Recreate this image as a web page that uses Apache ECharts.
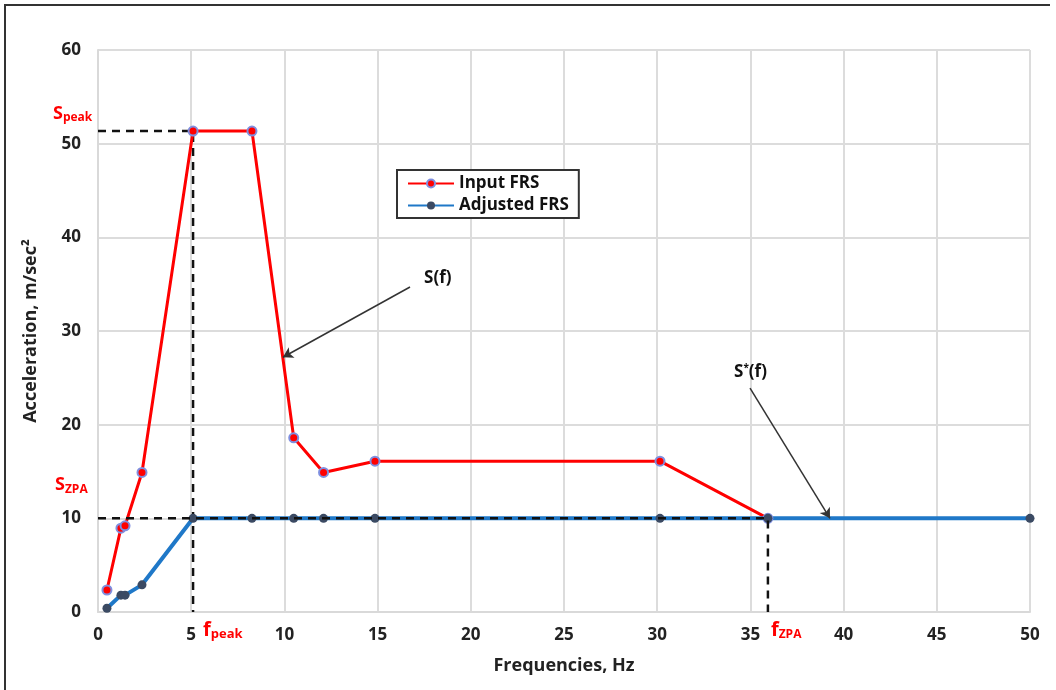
<!DOCTYPE html>
<html>
<head>
<meta charset="utf-8">
<script src="https://cdn.jsdelivr.net/npm/echarts@6/dist/echarts.min.js"></script>
<style>
  html, body { margin: 0; padding: 0; background: #fff; }
  #chart { width: 1056px; height: 690px; }
</style>
</head>
<body>
<div id="chart"></div>
<script>
// Frequencies (Hz) at which both spectra are defined
const freqs = [0.48, 1.23, 1.45, 2.36, 5.1, 8.26, 10.5, 12.1, 14.86, 30.15, 35.94];
// Input floor response spectrum, m/sec²
const inputFRS = [2.35, 8.95, 9.2, 14.9, 51.35, 51.35, 18.6, 14.9, 16.1, 16.1, 10.0];
// Adjusted spectrum: same frequencies plus the 50 Hz end point
const adjFreqs = [0.48, 1.23, 1.45, 2.36, 5.1, 8.26, 10.5, 12.1, 14.86, 30.15, 35.94, 50];
const adjustedFRS = [0.4, 1.8, 1.8, 2.9, 10.0, 10.0, 10.0, 10.0, 10.0, 10.0, 10.0, 10.0];
// Axis ticks
const xTicks = [0, 5, 10, 15, 20, 25, 30, 35, 40, 45, 50];
const yTicks = [0, 10, 20, 30, 40, 50, 60];
// Annotation arrows: [start, end] in data coordinates
const arrowSf = [[16.74, 34.7], [9.92, 27.2]];
const arrowSstar = [[34.98, 23.9], [39.27, 10.0]];

const iPeak = 4;      // index of the spectral peak
const iZpa = 10;      // index of the zero-period acceleration point
const fPeak = freqs[iPeak], sPeak = inputFRS[iPeak];
const fZpa = freqs[iZpa], sZpa = inputFRS[iZpa];

const FONT = '"Open Sans", "Liberation Sans", sans-serif';
const chart = echarts.init(document.getElementById('chart'));

const dashStyle = { color: '#111', width: 2.5, type: [8, 6] };

chart.setOption({
  animation: false,
  backgroundColor: '#fff',
  grid: { left: 98, right: 26, top: 50, bottom: 78 },
  xAxis: {
    type: 'value', min: xTicks[0], max: xTicks[xTicks.length - 1], interval: 5,
    name: 'Frequencies, Hz', nameLocation: 'middle', nameGap: 45,
    nameTextStyle: { fontFamily: FONT, fontWeight: 'bold', fontSize: 18, color: '#222' },
    axisLine: { show: true, lineStyle: { color: '#d9d9d9', width: 2 } },
    axisTick: { show: false },
    axisLabel: { fontFamily: FONT, fontWeight: 'bold', fontSize: 17, color: '#222', margin: 15 },
    splitLine: { show: true, lineStyle: { color: '#dcdcdc', width: 2 } }
  },
  yAxis: {
    type: 'value', min: yTicks[0], max: yTicks[yTicks.length - 1], interval: 10,
    name: 'Acceleration, m/sec²', nameLocation: 'middle', nameGap: 58,
    nameTextStyle: { fontFamily: FONT, fontWeight: 'bold', fontSize: 18, color: '#222' },
    axisLine: { show: true, lineStyle: { color: '#d9d9d9', width: 2 } },
    axisTick: { show: false },
    axisLabel: { fontFamily: FONT, fontWeight: 'bold', fontSize: 17, color: '#222', margin: 17 },
    splitLine: { show: true, lineStyle: { color: '#dcdcdc', width: 2 } }
  },
  legend: {
    orient: 'vertical', left: 397, top: 170,
    data: ['Input FRS', 'Adjusted FRS'],
    backgroundColor: '#fff',
    borderColor: '#333', borderWidth: 2, padding: [5, 10, 4, 10],
    itemWidth: 46, itemHeight: 10, itemGap: 5,
    textStyle: { fontFamily: FONT, fontWeight: 'bold', fontSize: 17, color: '#111' }
  },
  series: [
    {
      name: 'peak-guide', type: 'line', silent: true, symbol: 'none',
      data: [[0, sPeak], [fPeak, sPeak], [fPeak, 0]],
      lineStyle: dashStyle, z: 3
    },
    {
      name: 'zpa-guide', type: 'line', silent: true, symbol: 'none',
      data: [[0, sZpa], [fZpa, sZpa], [fZpa, 0]],
      lineStyle: dashStyle, z: 5
    },
    {
      name: 'Input FRS', type: 'line',
      data: freqs.map((f, i) => [f, inputFRS[i]]),
      symbol: 'circle', symbolSize: 9,
      itemStyle: { color: '#ff0000', borderColor: '#7f8fe0', borderWidth: 2 },
      lineStyle: { color: '#ff0000', width: 3 }, z: 4,
      markLine: {
        silent: true, symbol: ['none', 'arrow'], symbolSize: [9, 10],
        lineStyle: { color: '#333', width: 1.5, type: 'solid' },
        label: { show: false },
        data: [
          [{ coord: arrowSf[0] }, { coord: arrowSf[1] }],
          [{ coord: arrowSstar[0] }, { coord: arrowSstar[1] }]
        ]
      }
    },
    {
      name: 'Adjusted FRS', type: 'line',
      data: adjFreqs.map((f, i) => [f, adjustedFRS[i]]),
      symbol: 'circle', symbolSize: 9,
      itemStyle: { color: '#3b4a63', borderColor: '#3b4a63', borderWidth: 0 },
      lineStyle: { color: '#1f78c8', width: 4 }, z: 4
    }
  ]
});

// Text annotations placed at data positions
function px(x, y) { return chart.convertToPixel({ gridIndex: 0 }, [x, y]); }
const pPeak = px(0, sPeak), pZpa = px(0, sZpa);
const pfPeak = px(fPeak, 0), pfZpa = px(fZpa, 0);
const pSf = px(arrowSf[0][0], arrowSf[0][1]);
const pSs = px(arrowSstar[0][0], arrowSstar[0][1]);

function subLabel(x, y, main, sub, mainSize, subSize) {
  return {
    type: 'text', x: x, y: y, z: 20,
    style: {
      text: '{m|' + main + '}{s|' + sub + '}',
      rich: {
        m: { fontFamily: FONT, fontWeight: 'bold', fontSize: mainSize, fill: '#ff0000', lineHeight: mainSize + 4 },
        s: { fontFamily: FONT, fontWeight: 'bold', fontSize: subSize, fill: '#ff0000', padding: [mainSize * 0.45, 0, 0, 0] }
      }
    }
  };
}

chart.setOption({
  graphic: [
    // outer frame
    { type: 'polyline', z: 0, shape: { points: [[5, 700], [5, 5], [1050, 5]] }, style: { stroke: '#333', lineWidth: 2, fill: null } },
    subLabel(pPeak[0] - 45, pPeak[1] - 28, 'S', 'peak', 18, 12),
    subLabel(pZpa[0] - 43, pZpa[1] - 44, 'S', 'ZPA', 18, 12),
    subLabel(pfPeak[0] + 10, pfPeak[1] + 6, 'f', 'peak', 20, 13),
    subLabel(pfZpa[0] + 3, pfZpa[1] + 6, 'f', 'ZPA', 20, 12),
    {
      type: 'text', x: pSf[0] + 14, y: pSf[1] - 17, z: 20,
      style: { text: 'S(f)', fontFamily: FONT, fontWeight: 'bold', fontSize: 17, fill: '#111' }
    },
    {
      type: 'text', x: pSs[0] - 16, y: pSs[1] - 25, z: 20,
      style: {
        text: '{a|S}{b|*}{a|(f)}',
        rich: {
          a: { fontFamily: FONT, fontWeight: 'bold', fontSize: 17, fill: '#111' },
          b: { fontFamily: FONT, fontWeight: 'bold', fontSize: 10, fill: '#111', padding: [0, 0, 8, 0] }
        }
      }
    }
  ]
});
</script>
</body>
</html>
